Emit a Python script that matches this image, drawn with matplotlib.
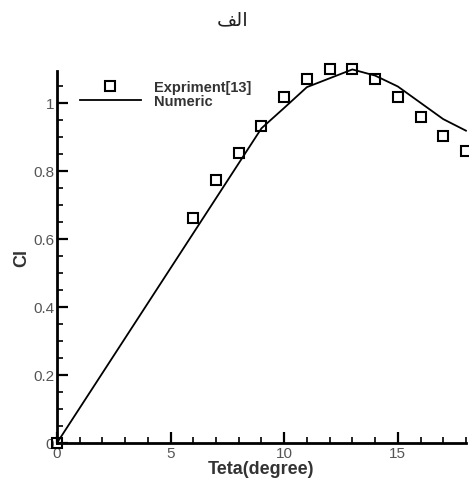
import matplotlib.pyplot as plt
import numpy as np

# experiment [13]
exp_teta = [0, 6, 7, 8, 9, 10, 11, 12, 13, 14, 15, 16, 17, 18]
exp_cl = [0, 0.662, 0.774, 0.853, 0.933, 1.017, 1.071, 1.10, 1.10, 1.069, 1.017, 0.958, 0.902, 0.858]

# numeric
num_teta = [0, 9, 10, 11, 12, 13, 14, 15, 16, 17, 18]
num_cl = [0, 0.925, 0.985, 1.046, 1.072, 1.098, 1.08, 1.048, 1.0, 0.952, 0.918]

# "الف" in visual order with presentation forms (matplotlib has no arabic shaping)
title_txt = "\uFED2\uFEDF\uFE8D"

fig = plt.figure(figsize=(4.69, 4.81), dpi=100)
ax = fig.add_axes([0.1215, 0.077, 0.872, 0.773])

ax.plot(num_teta, num_cl, 'k-', lw=1.3, label='Numeric', clip_on=False)
ax.plot(exp_teta, exp_cl, 's', ms=7.5, mfc='none', mec='k', mew=1.5,
        label='Expriment[13]', clip_on=False)

ax.set_xlim(0, 18)
ax.set_ylim(0, 1.093)
ax.set_xticks([0, 5, 10, 15])
ax.set_xticks(np.arange(0, 19, 1), minor=True)
ax.set_yticks([0, 0.2, 0.4, 0.6, 0.8, 1])
ax.set_yticklabels(['0', '0.2', '0.4', '0.6', '0.8', '1'])
ax.set_yticks(np.arange(0, 1.1, 0.05), minor=True)

for s in ['top', 'right']:
    ax.spines[s].set_visible(False)
for s in ['left', 'bottom']:
    ax.spines[s].set_linewidth(2)

ax.tick_params(which='major', direction='in', length=8, width=1.6,
               labelsize=11, labelcolor='#555555', pad=2)
ax.tick_params(which='minor', direction='in', length=4, width=1.2)

ax.set_xlabel('Teta(degree)', fontsize=13, fontweight='bold', family='Liberation Sans',
              color='#333333', labelpad=0)
ax.set_ylabel('Cl', fontsize=13, fontweight='bold', family='Liberation Sans',
              color='#333333', labelpad=2)
for lbl in ax.get_xticklabels() + ax.get_yticklabels():
    lbl.set_family('Liberation Sans')

h, l = ax.get_legend_handles_labels()
leg = ax.legend(h[::-1], l[::-1], loc='upper left', bbox_to_anchor=(0.023, 1.012),
                frameon=False, handlelength=4.2, handletextpad=0.9,
                labelspacing=0.0, prop={'family': 'Liberation Sans', 'weight': 'bold', 'size': 10.5})
for t in leg.get_texts():
    t.set_color('#333333')

fig.text(0.497, 0.958, title_txt, ha='center', va='center', fontsize=14,
         family='DejaVu Sans', color='#222222')

fig.savefig('out.png', dpi=100)
